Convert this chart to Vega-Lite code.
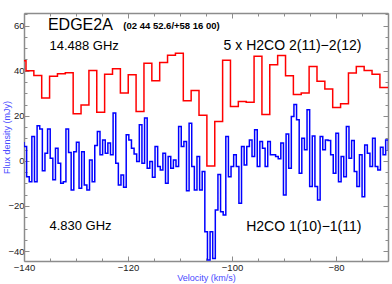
{
  "$schema": "https://vega.github.io/schema/vega-lite/v6.json",
  "width": 364,
  "height": 248,
  "autosize": {"type": "none"},
  "padding": {"left": 24, "top": 13, "right": 4, "bottom": 23},
  "background": "white",
  "config": {
    "view": {"stroke": null},
    "font": "Liberation Sans",
    "axis": {
      "grid": false,
      "domainColor": "#8c8c8c",
      "domainWidth": 1.5,
      "tickColor": "#8c8c8c",
      "tickWidth": 1,
      "labelColor": "#222222",
      "labelFont": "Liberation Sans",
      "labelFontSize": 9.5,
      "labelFlush": false,
      "labelOverlap": false,
      "titleFont": "Liberation Sans",
      "titleFontWeight": "normal",
      "titleFontSize": 9,
      "titleColor": "#4a4aff"
    }
  },
  "datasets": {
    "spectra": [
      {"velocity": -140.37, "flux": 44.4, "line": "H2CO 2(11)-2(12) x5"},
      {"velocity": -138.86, "flux": 40.0, "line": "H2CO 2(11)-2(12) x5"},
      {"velocity": -137.35, "flux": 37.9, "line": "H2CO 2(11)-2(12) x5"},
      {"velocity": -135.84, "flux": 27.9, "line": "H2CO 2(11)-2(12) x5"},
      {"velocity": -134.32, "flux": 37.6, "line": "H2CO 2(11)-2(12) x5"},
      {"velocity": -132.81, "flux": 38.7, "line": "H2CO 2(11)-2(12) x5"},
      {"velocity": -131.30, "flux": 39.1, "line": "H2CO 2(11)-2(12) x5"},
      {"velocity": -129.79, "flux": 20.9, "line": "H2CO 2(11)-2(12) x5"},
      {"velocity": -128.27, "flux": 24.8, "line": "H2CO 2(11)-2(12) x5"},
      {"velocity": -126.76, "flux": 40.1, "line": "H2CO 2(11)-2(12) x5"},
      {"velocity": -125.25, "flux": 21.6, "line": "H2CO 2(11)-2(12) x5"},
      {"velocity": -123.74, "flux": 38.4, "line": "H2CO 2(11)-2(12) x5"},
      {"velocity": -122.22, "flux": 40.9, "line": "H2CO 2(11)-2(12) x5"},
      {"velocity": -120.71, "flux": 30.1, "line": "H2CO 2(11)-2(12) x5"},
      {"velocity": -119.20, "flux": 38.2, "line": "H2CO 2(11)-2(12) x5"},
      {"velocity": -117.69, "flux": 21.9, "line": "H2CO 2(11)-2(12) x5"},
      {"velocity": -116.17, "flux": 43.3, "line": "H2CO 2(11)-2(12) x5"},
      {"velocity": -114.66, "flux": 35.6, "line": "H2CO 2(11)-2(12) x5"},
      {"velocity": -113.15, "flux": 43.7, "line": "H2CO 2(11)-2(12) x5"},
      {"velocity": -111.64, "flux": 46.9, "line": "H2CO 2(11)-2(12) x5"},
      {"velocity": -110.12, "flux": 47.8, "line": "H2CO 2(11)-2(12) x5"},
      {"velocity": -108.61, "flux": 26.7, "line": "H2CO 2(11)-2(12) x5"},
      {"velocity": -107.10, "flux": 31.2, "line": "H2CO 2(11)-2(12) x5"},
      {"velocity": -105.59, "flux": 20.2, "line": "H2CO 2(11)-2(12) x5"},
      {"velocity": -104.07, "flux": -2.3, "line": "H2CO 2(11)-2(12) x5"},
      {"velocity": -102.56, "flux": 17.5, "line": "H2CO 2(11)-2(12) x5"},
      {"velocity": -101.05, "flux": 44.6, "line": "H2CO 2(11)-2(12) x5"},
      {"velocity": -99.54, "flux": 24.1, "line": "H2CO 2(11)-2(12) x5"},
      {"velocity": -98.03, "flux": 26.4, "line": "H2CO 2(11)-2(12) x5"},
      {"velocity": -96.51, "flux": 26.0, "line": "H2CO 2(11)-2(12) x5"},
      {"velocity": -95.00, "flux": 46.4, "line": "H2CO 2(11)-2(12) x5"},
      {"velocity": -93.49, "flux": 20.6, "line": "H2CO 2(11)-2(12) x5"},
      {"velocity": -91.98, "flux": 42.7, "line": "H2CO 2(11)-2(12) x5"},
      {"velocity": -90.46, "flux": 46.8, "line": "H2CO 2(11)-2(12) x5"},
      {"velocity": -88.95, "flux": 37.8, "line": "H2CO 2(11)-2(12) x5"},
      {"velocity": -87.44, "flux": 29.4, "line": "H2CO 2(11)-2(12) x5"},
      {"velocity": -85.93, "flux": 30.1, "line": "H2CO 2(11)-2(12) x5"},
      {"velocity": -84.41, "flux": 41.9, "line": "H2CO 2(11)-2(12) x5"},
      {"velocity": -82.90, "flux": 35.3, "line": "H2CO 2(11)-2(12) x5"},
      {"velocity": -81.39, "flux": 31.9, "line": "H2CO 2(11)-2(12) x5"},
      {"velocity": -79.88, "flux": 23.7, "line": "H2CO 2(11)-2(12) x5"},
      {"velocity": -78.36, "flux": 25.3, "line": "H2CO 2(11)-2(12) x5"},
      {"velocity": -76.85, "flux": 39.0, "line": "H2CO 2(11)-2(12) x5"},
      {"velocity": -75.34, "flux": 41.9, "line": "H2CO 2(11)-2(12) x5"},
      {"velocity": -73.83, "flux": 40.1, "line": "H2CO 2(11)-2(12) x5"},
      {"velocity": -72.31, "flux": 38.4, "line": "H2CO 2(11)-2(12) x5"},
      {"velocity": -70.80, "flux": 32.6, "line": "H2CO 2(11)-2(12) x5"},
      {"velocity": -69.29, "flux": 32.6, "line": "H2CO 2(11)-2(12) x5"},
      {"velocity": -140.25, "flux": 8.0, "line": "H2CO 1(10)-1(11)"},
      {"velocity": -139.75, "flux": 6.4, "line": "H2CO 1(10)-1(11)"},
      {"velocity": -139.24, "flux": -7.0, "line": "H2CO 1(10)-1(11)"},
      {"velocity": -138.74, "flux": -9.2, "line": "H2CO 1(10)-1(11)"},
      {"velocity": -138.24, "flux": 10.8, "line": "H2CO 1(10)-1(11)"},
      {"velocity": -137.73, "flux": -9.2, "line": "H2CO 1(10)-1(11)"},
      {"velocity": -137.23, "flux": 15.6, "line": "H2CO 1(10)-1(11)"},
      {"velocity": -136.72, "flux": 14.2, "line": "H2CO 1(10)-1(11)"},
      {"velocity": -136.22, "flux": -4.4, "line": "H2CO 1(10)-1(11)"},
      {"velocity": -135.72, "flux": 3.4, "line": "H2CO 1(10)-1(11)"},
      {"velocity": -135.21, "flux": 14.1, "line": "H2CO 1(10)-1(11)"},
      {"velocity": -134.71, "flux": 1.2, "line": "H2CO 1(10)-1(11)"},
      {"velocity": -134.20, "flux": -8.4, "line": "H2CO 1(10)-1(11)"},
      {"velocity": -133.70, "flux": 5.6, "line": "H2CO 1(10)-1(11)"},
      {"velocity": -133.20, "flux": -1.0, "line": "H2CO 1(10)-1(11)"},
      {"velocity": -132.69, "flux": -9.9, "line": "H2CO 1(10)-1(11)"},
      {"velocity": -132.19, "flux": -9.2, "line": "H2CO 1(10)-1(11)"},
      {"velocity": -131.68, "flux": 14.1, "line": "H2CO 1(10)-1(11)"},
      {"velocity": -131.18, "flux": 3.7, "line": "H2CO 1(10)-1(11)"},
      {"velocity": -130.68, "flux": -12.9, "line": "H2CO 1(10)-1(11)"},
      {"velocity": -130.17, "flux": 4.1, "line": "H2CO 1(10)-1(11)"},
      {"velocity": -129.67, "flux": 8.3, "line": "H2CO 1(10)-1(11)"},
      {"velocity": -129.16, "flux": -12.1, "line": "H2CO 1(10)-1(11)"},
      {"velocity": -128.66, "flux": 4.1, "line": "H2CO 1(10)-1(11)"},
      {"velocity": -128.16, "flux": -10.7, "line": "H2CO 1(10)-1(11)"},
      {"velocity": -127.65, "flux": -12.9, "line": "H2CO 1(10)-1(11)"},
      {"velocity": -127.15, "flux": 0.4, "line": "H2CO 1(10)-1(11)"},
      {"velocity": -126.64, "flux": -9.2, "line": "H2CO 1(10)-1(11)"},
      {"velocity": -126.14, "flux": 6.8, "line": "H2CO 1(10)-1(11)"},
      {"velocity": -125.64, "flux": 13.0, "line": "H2CO 1(10)-1(11)"},
      {"velocity": -125.13, "flux": 2.7, "line": "H2CO 1(10)-1(11)"},
      {"velocity": -124.63, "flux": 9.3, "line": "H2CO 1(10)-1(11)"},
      {"velocity": -124.12, "flux": 3.4, "line": "H2CO 1(10)-1(11)"},
      {"velocity": -123.62, "flux": 7.9, "line": "H2CO 1(10)-1(11)"},
      {"velocity": -123.12, "flux": 2.7, "line": "H2CO 1(10)-1(11)"},
      {"velocity": -122.61, "flux": 21.2, "line": "H2CO 1(10)-1(11)"},
      {"velocity": -122.11, "flux": -1.0, "line": "H2CO 1(10)-1(11)"},
      {"velocity": -121.60, "flux": -10.7, "line": "H2CO 1(10)-1(11)"},
      {"velocity": -121.10, "flux": -6.2, "line": "H2CO 1(10)-1(11)"},
      {"velocity": -120.60, "flux": -11.7, "line": "H2CO 1(10)-1(11)"},
      {"velocity": -120.09, "flux": 11.6, "line": "H2CO 1(10)-1(11)"},
      {"velocity": -119.59, "flux": 9.3, "line": "H2CO 1(10)-1(11)"},
      {"velocity": -119.08, "flux": 5.6, "line": "H2CO 1(10)-1(11)"},
      {"velocity": -118.58, "flux": 3.1, "line": "H2CO 1(10)-1(11)"},
      {"velocity": -118.08, "flux": -0.3, "line": "H2CO 1(10)-1(11)"},
      {"velocity": -117.57, "flux": 16.0, "line": "H2CO 1(10)-1(11)"},
      {"velocity": -117.07, "flux": -1.0, "line": "H2CO 1(10)-1(11)"},
      {"velocity": -116.56, "flux": 19.0, "line": "H2CO 1(10)-1(11)"},
      {"velocity": -116.06, "flux": -3.3, "line": "H2CO 1(10)-1(11)"},
      {"velocity": -115.56, "flux": -0.3, "line": "H2CO 1(10)-1(11)"},
      {"velocity": -115.05, "flux": -7.3, "line": "H2CO 1(10)-1(11)"},
      {"velocity": -114.55, "flux": 6.4, "line": "H2CO 1(10)-1(11)"},
      {"velocity": -114.04, "flux": -2.5, "line": "H2CO 1(10)-1(11)"},
      {"velocity": -113.54, "flux": -4.0, "line": "H2CO 1(10)-1(11)"},
      {"velocity": -113.04, "flux": 3.4, "line": "H2CO 1(10)-1(11)"},
      {"velocity": -112.53, "flux": -9.9, "line": "H2CO 1(10)-1(11)"},
      {"velocity": -112.03, "flux": 1.9, "line": "H2CO 1(10)-1(11)"},
      {"velocity": -111.52, "flux": -3.3, "line": "H2CO 1(10)-1(11)"},
      {"velocity": -111.02, "flux": 0.4, "line": "H2CO 1(10)-1(11)"},
      {"velocity": -110.52, "flux": -2.5, "line": "H2CO 1(10)-1(11)"},
      {"velocity": -110.01, "flux": 15.3, "line": "H2CO 1(10)-1(11)"},
      {"velocity": -109.51, "flux": 6.4, "line": "H2CO 1(10)-1(11)"},
      {"velocity": -109.00, "flux": 8.6, "line": "H2CO 1(10)-1(11)"},
      {"velocity": -108.50, "flux": -13.2, "line": "H2CO 1(10)-1(11)"},
      {"velocity": -108.00, "flux": 16.7, "line": "H2CO 1(10)-1(11)"},
      {"velocity": -107.49, "flux": -2.5, "line": "H2CO 1(10)-1(11)"},
      {"velocity": -106.99, "flux": -12.9, "line": "H2CO 1(10)-1(11)"},
      {"velocity": -106.48, "flux": 1.9, "line": "H2CO 1(10)-1(11)"},
      {"velocity": -105.98, "flux": -12.9, "line": "H2CO 1(10)-1(11)"},
      {"velocity": -105.48, "flux": -4.7, "line": "H2CO 1(10)-1(11)"},
      {"velocity": -104.97, "flux": -31.4, "line": "H2CO 1(10)-1(11)"},
      {"velocity": -104.47, "flux": -44.0, "line": "H2CO 1(10)-1(11)"},
      {"velocity": -103.96, "flux": -31.4, "line": "H2CO 1(10)-1(11)"},
      {"velocity": -103.46, "flux": -43.3, "line": "H2CO 1(10)-1(11)"},
      {"velocity": -102.96, "flux": -21.8, "line": "H2CO 1(10)-1(11)"},
      {"velocity": -102.45, "flux": -6.0, "line": "H2CO 1(10)-1(11)"},
      {"velocity": -101.95, "flux": -22.5, "line": "H2CO 1(10)-1(11)"},
      {"velocity": -101.44, "flux": -24.0, "line": "H2CO 1(10)-1(11)"},
      {"velocity": -100.94, "flux": 10.8, "line": "H2CO 1(10)-1(11)"},
      {"velocity": -100.44, "flux": -7.0, "line": "H2CO 1(10)-1(11)"},
      {"velocity": -99.93, "flux": -2.5, "line": "H2CO 1(10)-1(11)"},
      {"velocity": -99.43, "flux": 2.7, "line": "H2CO 1(10)-1(11)"},
      {"velocity": -98.92, "flux": -2.5, "line": "H2CO 1(10)-1(11)"},
      {"velocity": -98.42, "flux": -18.8, "line": "H2CO 1(10)-1(11)"},
      {"velocity": -97.92, "flux": 6.4, "line": "H2CO 1(10)-1(11)"},
      {"velocity": -97.41, "flux": -1.8, "line": "H2CO 1(10)-1(11)"},
      {"velocity": -96.91, "flux": 6.4, "line": "H2CO 1(10)-1(11)"},
      {"velocity": -96.40, "flux": 9.3, "line": "H2CO 1(10)-1(11)"},
      {"velocity": -95.90, "flux": 1.9, "line": "H2CO 1(10)-1(11)"},
      {"velocity": -95.40, "flux": 13.8, "line": "H2CO 1(10)-1(11)"},
      {"velocity": -94.89, "flux": -2.5, "line": "H2CO 1(10)-1(11)"},
      {"velocity": -94.39, "flux": 8.6, "line": "H2CO 1(10)-1(11)"},
      {"velocity": -93.88, "flux": 5.6, "line": "H2CO 1(10)-1(11)"},
      {"velocity": -93.38, "flux": -2.5, "line": "H2CO 1(10)-1(11)"},
      {"velocity": -92.88, "flux": 8.6, "line": "H2CO 1(10)-1(11)"},
      {"velocity": -92.37, "flux": 2.7, "line": "H2CO 1(10)-1(11)"},
      {"velocity": -91.87, "flux": 2.7, "line": "H2CO 1(10)-1(11)"},
      {"velocity": -91.36, "flux": 2.0, "line": "H2CO 1(10)-1(11)"},
      {"velocity": -90.86, "flux": 1.0, "line": "H2CO 1(10)-1(11)"},
      {"velocity": -90.36, "flux": 7.9, "line": "H2CO 1(10)-1(11)"},
      {"velocity": -89.85, "flux": -15.1, "line": "H2CO 1(10)-1(11)"},
      {"velocity": -89.35, "flux": 11.9, "line": "H2CO 1(10)-1(11)"},
      {"velocity": -88.84, "flux": -3.3, "line": "H2CO 1(10)-1(11)"},
      {"velocity": -88.34, "flux": 19.7, "line": "H2CO 1(10)-1(11)"},
      {"velocity": -87.84, "flux": 25.0, "line": "H2CO 1(10)-1(11)"},
      {"velocity": -87.33, "flux": 18.2, "line": "H2CO 1(10)-1(11)"},
      {"velocity": -86.83, "flux": -5.5, "line": "H2CO 1(10)-1(11)"},
      {"velocity": -86.32, "flux": 10.1, "line": "H2CO 1(10)-1(11)"},
      {"velocity": -85.82, "flux": 4.9, "line": "H2CO 1(10)-1(11)"},
      {"velocity": -85.32, "flux": 22.7, "line": "H2CO 1(10)-1(11)"},
      {"velocity": -84.81, "flux": -11.4, "line": "H2CO 1(10)-1(11)"},
      {"velocity": -84.31, "flux": 11.0, "line": "H2CO 1(10)-1(11)"},
      {"velocity": -83.80, "flux": -11.4, "line": "H2CO 1(10)-1(11)"},
      {"velocity": -83.30, "flux": -17.3, "line": "H2CO 1(10)-1(11)"},
      {"velocity": -82.80, "flux": 10.8, "line": "H2CO 1(10)-1(11)"},
      {"velocity": -82.29, "flux": 5.0, "line": "H2CO 1(10)-1(11)"},
      {"velocity": -81.79, "flux": 9.3, "line": "H2CO 1(10)-1(11)"},
      {"velocity": -81.28, "flux": 9.0, "line": "H2CO 1(10)-1(11)"},
      {"velocity": -80.78, "flux": 2.7, "line": "H2CO 1(10)-1(11)"},
      {"velocity": -80.28, "flux": -5.5, "line": "H2CO 1(10)-1(11)"},
      {"velocity": -79.77, "flux": 12.3, "line": "H2CO 1(10)-1(11)"},
      {"velocity": -79.27, "flux": -9.2, "line": "H2CO 1(10)-1(11)"},
      {"velocity": -78.76, "flux": 1.9, "line": "H2CO 1(10)-1(11)"},
      {"velocity": -78.26, "flux": -7.0, "line": "H2CO 1(10)-1(11)"},
      {"velocity": -77.76, "flux": 15.3, "line": "H2CO 1(10)-1(11)"},
      {"velocity": -77.25, "flux": 1.2, "line": "H2CO 1(10)-1(11)"},
      {"velocity": -76.75, "flux": 9.0, "line": "H2CO 1(10)-1(11)"},
      {"velocity": -76.24, "flux": -4.7, "line": "H2CO 1(10)-1(11)"},
      {"velocity": -75.74, "flux": -11.4, "line": "H2CO 1(10)-1(11)"},
      {"velocity": -75.24, "flux": 2.7, "line": "H2CO 1(10)-1(11)"},
      {"velocity": -74.73, "flux": -15.9, "line": "H2CO 1(10)-1(11)"},
      {"velocity": -74.23, "flux": 7.1, "line": "H2CO 1(10)-1(11)"},
      {"velocity": -73.72, "flux": 3.4, "line": "H2CO 1(10)-1(11)"},
      {"velocity": -73.22, "flux": -2.5, "line": "H2CO 1(10)-1(11)"},
      {"velocity": -72.72, "flux": 10.1, "line": "H2CO 1(10)-1(11)"},
      {"velocity": -72.21, "flux": -2.5, "line": "H2CO 1(10)-1(11)"},
      {"velocity": -71.71, "flux": -4.0, "line": "H2CO 1(10)-1(11)"},
      {"velocity": -71.20, "flux": 6.0, "line": "H2CO 1(10)-1(11)"},
      {"velocity": -70.70, "flux": 2.7, "line": "H2CO 1(10)-1(11)"},
      {"velocity": -70.20, "flux": 9.3, "line": "H2CO 1(10)-1(11)"},
      {"velocity": -69.69, "flux": 5.0, "line": "H2CO 1(10)-1(11)"}
    ]
  },
  "data": {"name": "spectra"},
  "layer": [
    {
      "transform": [{"filter": "datum.line === 'H2CO 2(11)-2(12) x5'"}],
      "mark": {"type": "line", "interpolate": "step", "clip": true, "color": "#ff0000", "strokeWidth": 1.5},
      "encoding": {
        "x": {
          "field": "velocity", "type": "quantitative",
          "scale": {"domain": [-140, -70], "nice": false, "zero": false},
          "axis": {
            "orient": "bottom",
            "values": [-140, -135, -130, -125, -120, -115, -110, -105, -100, -95, -90, -85, -80, -75, -70],
            "labelExpr": "datum.value % 20 === 0 ? datum.label : ''",
            "tickSize": {"condition": {"test": "datum.value % 20 === 0", "value": -5}, "value": -3},
            "labelPadding": 6,
            "title": "Velocity (km/s)",
            "titleX": 182, "titleY": 16, "titleAlign": "center", "titleBaseline": "middle"
          }
        },
        "y": {
          "field": "flux", "type": "quantitative",
          "scale": {"domain": [-44.4, 65.6], "nice": false, "zero": false},
          "axis": {
            "orient": "left",
            "values": [-40, -35, -30, -25, -20, -15, -10, -5, 0, 5, 10, 15, 20, 25, 30, 35, 40, 45, 50, 55, 60, 65],
            "labelExpr": "datum.value % 20 === 0 ? datum.label : ''",
            "tickSize": {"condition": {"test": "datum.value % 20 === 0", "value": -5}, "value": -3},
            "labelPadding": 5,
            "title": "Flux density (mJy)",
            "titleX": -18, "titleY": 124, "titleAngle": -90, "titleAlign": "center", "titleBaseline": "middle"
          }
        }
      }
    },
    {
      "transform": [{"filter": "datum.line === 'H2CO 1(10)-1(11)'"}],
      "mark": {"type": "line", "interpolate": "step", "clip": true, "color": "#0000ff", "strokeWidth": 1.5},
      "encoding": {
        "x": {
          "field": "velocity", "type": "quantitative",
          "scale": {"domain": [-140, -70], "nice": false, "zero": false},
          "axis": {
            "orient": "top",
            "values": [-140, -135, -130, -125, -120, -115, -110, -105, -100, -95, -90, -85, -80, -75, -70],
            "labels": false,
            "tickSize": {"condition": {"test": "datum.value % 20 === 0", "value": -5}, "value": -3},
            "title": null
          }
        },
        "y": {
          "field": "flux", "type": "quantitative",
          "scale": {"domain": [-44.4, 65.6], "nice": false, "zero": false},
          "axis": {
            "orient": "right",
            "values": [-40, -35, -30, -25, -20, -15, -10, -5, 0, 5, 10, 15, 20, 25, 30, 35, 40, 45, 50, 55, 60, 65],
            "labels": false,
            "tickSize": {"condition": {"test": "datum.value % 20 === 0", "value": -5}, "value": -3},
            "title": null
          }
        }
      }
    },
    {
      "data": {"values": [{"label": "EDGE2A", "velocity": -135.4, "flux": 60.4}]},
      "mark": {"type": "text", "align": "left", "baseline": "middle", "font": "Liberation Sans", "fontSize": 16, "color": "#000000"},
      "encoding": {
        "x": {"field": "velocity", "type": "quantitative", "axis": null},
        "y": {"field": "flux", "type": "quantitative", "axis": null},
        "text": {"field": "label"}
      }
    },
    {
      "data": {"values": [{"label": "(02 44 52.6/+58 16 00)", "velocity": -120.9, "flux": 59.8}]},
      "mark": {"type": "text", "align": "left", "baseline": "middle", "font": "Liberation Sans", "fontSize": 9.5, "fontWeight": "bold", "color": "#000000"},
      "encoding": {
        "x": {"field": "velocity", "type": "quantitative", "axis": null},
        "y": {"field": "flux", "type": "quantitative", "axis": null},
        "text": {"field": "label"}
      }
    },
    {
      "data": {"values": [
        {"label": "14.488 GHz", "velocity": -135.1, "flux": 51.1},
        {"label": "4.830 GHz", "velocity": -135.1, "flux": -29.0}
      ]},
      "mark": {"type": "text", "align": "left", "baseline": "middle", "font": "Liberation Sans", "fontSize": 13, "color": "#000000"},
      "encoding": {
        "x": {"field": "velocity", "type": "quantitative", "axis": null},
        "y": {"field": "flux", "type": "quantitative", "axis": null},
        "text": {"field": "label"}
      }
    },
    {
      "data": {"values": [
        {"label": "5 x H2CO 2(11)−2(12)", "velocity": -75.1, "flux": 51.1},
        {"label": "H2CO 1(10)−1(11)", "velocity": -75.1, "flux": -29.2}
      ]},
      "mark": {"type": "text", "align": "right", "baseline": "middle", "font": "Liberation Sans", "fontSize": 14, "color": "#000000"},
      "encoding": {
        "x": {"field": "velocity", "type": "quantitative", "axis": null},
        "y": {"field": "flux", "type": "quantitative", "axis": null},
        "text": {"field": "label"}
      }
    }
  ],
  "resolve": {"axis": {"x": "independent", "y": "independent"}}
}
